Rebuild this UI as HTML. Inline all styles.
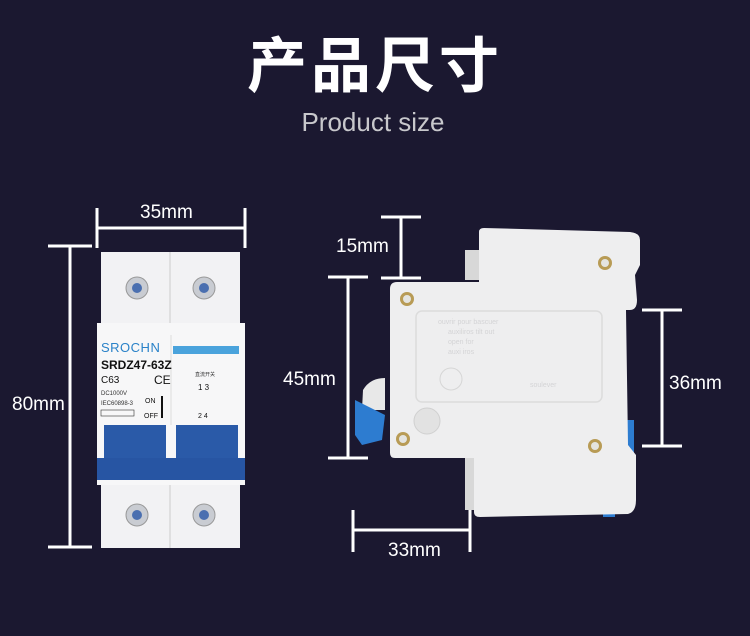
<!DOCTYPE html>
<html><head><meta charset="utf-8"><style>
html,body{margin:0;padding:0;background:#1b1830;}
body{width:750px;height:636px;overflow:hidden;position:relative;font-family:"Liberation Sans","Noto Sans CJK SC",sans-serif;}
</style></head><body>
<svg width="750" height="636" viewBox="0 0 750 636" xmlns="http://www.w3.org/2000/svg" style="position:absolute;left:0;top:0">
<rect width="750" height="636" fill="#1b1830"/>
<text x="375" y="87" text-anchor="middle" fill="#fff" font-size="60" font-weight="bold" font-family="Noto Sans CJK SC, sans-serif" letter-spacing="4">产品尺寸</text>
<text x="373" y="131" text-anchor="middle" fill="#c8c8cc" font-size="26" font-family="Liberation Sans, sans-serif">Product size</text>

<g stroke="#fff" stroke-width="3" fill="none">
<!-- 35mm -->
<line x1="97" y1="208" x2="97" y2="248"/><line x1="245" y1="208" x2="245" y2="248"/><line x1="97" y1="228" x2="245" y2="228"/>
<!-- 80mm -->
<line x1="48" y1="246" x2="92" y2="246"/><line x1="48" y1="547" x2="92" y2="547"/><line x1="70" y1="246" x2="70" y2="547"/>
<!-- 15mm -->
<line x1="381" y1="217" x2="421" y2="217"/><line x1="381" y1="278" x2="421" y2="278"/><line x1="401" y1="217" x2="401" y2="278"/>
<!-- 45mm -->
<line x1="328" y1="277" x2="368" y2="277"/><line x1="328" y1="458" x2="368" y2="458"/><line x1="348" y1="277" x2="348" y2="458"/>
<!-- 36mm -->
<line x1="642" y1="310" x2="682" y2="310"/><line x1="642" y1="446" x2="682" y2="446"/><line x1="662" y1="310" x2="662" y2="446"/>
<!-- 33mm -->
<line x1="353" y1="510" x2="353" y2="552"/><line x1="470" y1="510" x2="470" y2="552"/><line x1="353" y1="530" x2="470" y2="530"/>
</g>
<g fill="#fff" font-size="19" font-family="Liberation Sans, sans-serif">
<text x="140" y="218">35mm</text>
<text x="12" y="410">80mm</text>
<text x="336" y="252">15mm</text>
<text x="283" y="385">45mm</text>
<text x="669" y="389">36mm</text>
<text x="388" y="556">33mm</text>
</g>

<!-- Left breaker -->
<rect x="101" y="252" width="139" height="74" fill="#f2f2f4"/>
<line x1="170" y1="252" x2="170" y2="326" stroke="#ccc"/>
<rect x="97" y="323" width="148" height="162" fill="#f7f7f8"/>
<line x1="171" y1="335" x2="171" y2="425" stroke="#ddd"/>
<rect x="101" y="485" width="139" height="63" fill="#f2f2f4"/>
<line x1="170" y1="485" x2="170" y2="548" stroke="#ccc"/>
<g fill="#c9ccd2" stroke="#999">
<circle cx="137" cy="288" r="11"/><circle cx="204" cy="288" r="11"/>
<circle cx="137" cy="515" r="11"/><circle cx="204" cy="515" r="11"/>
</g>
<g fill="#4a6fb0"><circle cx="137" cy="288" r="5"/><circle cx="204" cy="288" r="5"/><circle cx="137" cy="515" r="5"/><circle cx="204" cy="515" r="5"/></g>
<text x="101" y="352" fill="#2a82c8" font-size="13" font-family="Liberation Sans, sans-serif" letter-spacing="0.5">SROCHN</text>
<rect x="173" y="346" width="66" height="8" fill="#4aa3dc"/>
<text x="101" y="369" fill="#111" font-size="12" font-weight="bold" font-family="Liberation Sans, sans-serif">SRDZ47-63Z</text>
<text x="101" y="383" fill="#111" font-size="10" font-family="Liberation Sans, sans-serif">C63</text>
<text x="154" y="384" fill="#111" font-size="12" font-family="Liberation Sans, sans-serif">CE</text>
<text x="101" y="395" fill="#333" font-size="6" font-family="Liberation Sans, sans-serif">DC1000V</text>
<text x="101" y="405" fill="#333" font-size="6" font-family="Liberation Sans, sans-serif">IEC60898-3</text>
<rect x="101" y="410" width="33" height="6" fill="none" stroke="#333" stroke-width="0.6"/>
<text x="145" y="403" fill="#111" font-size="7" font-family="Liberation Sans, sans-serif">ON</text>
<text x="144" y="418" fill="#111" font-size="7" font-family="Liberation Sans, sans-serif">OFF</text>
<line x1="162" y1="396" x2="162" y2="418" stroke="#111" stroke-width="2"/>
<text x="195" y="376" fill="#333" font-size="5" font-family="Noto Sans CJK SC, sans-serif">直流开关</text>
<text x="198" y="390" fill="#111" font-size="8" font-family="Liberation Sans, sans-serif">1  3</text>
<text x="198" y="418" fill="#111" font-size="7" font-family="Liberation Sans, sans-serif">2  4</text>
<rect x="104" y="425" width="62" height="35" fill="#2a5aa8"/>
<rect x="176" y="425" width="62" height="35" fill="#2a5aa8"/>
<rect x="97" y="458" width="148" height="22" fill="#2755a3"/>

<!-- Right breaker -->
<rect x="465" y="250" width="20" height="30" fill="#d8d8d8"/>
<rect x="465" y="455" width="15" height="55" fill="#d8d8d8"/>
<path d="M363 390 Q370 378 385 378 L385 410 L362 410 Z" fill="#e8e8e8"/>
<path d="M355 400 L375 410 L385 415 L382 440 L362 445 L355 435 Z" fill="#2d7cd0"/>
<rect x="612" y="420" width="22" height="34" fill="#2d7cd0"/>
<rect x="603" y="505" width="12" height="12" fill="#2d7cd0"/>
<path d="M479 232 Q479 228 484 228 L630 232 Q640 233 640 240 L640 265 L635 275 L637 300 Q637 310 630 310 L626 310 L628 445 L636 455 L636 500 Q636 512 628 514 L480 517 Q474 517 474 512 L474 458 L395 458 Q390 458 390 453 L390 289 Q390 282 397 282 L479 282 Z" fill="#eeeeef"/>
<rect x="416" y="311" width="186" height="91" rx="6" fill="none" stroke="#dcdcdc" stroke-width="1.5"/>
<g fill="#d4d4d6" font-size="7" font-family="Liberation Sans, sans-serif">
<text x="438" y="324">ouvrir  pour  bascuer</text>
<text x="448" y="334">auxiliros  tilt out</text>
<text x="448" y="344">open for</text>
<text x="448" y="354">auxi iros</text>
<text x="530" y="387">soulever</text>
</g>
<circle cx="451" cy="379" r="11" fill="none" stroke="#d6d6d6"/>
<circle cx="427" cy="421" r="13" fill="#e2e2e2" stroke="#d0d0d0"/>
<g fill="#b89b55"><circle cx="407" cy="299" r="7"/><circle cx="605" cy="263" r="7"/><circle cx="403" cy="439" r="7"/><circle cx="595" cy="446" r="7"/></g>
<g fill="#e4e4e0"><circle cx="407" cy="299" r="4"/><circle cx="605" cy="263" r="4"/><circle cx="403" cy="439" r="4"/><circle cx="595" cy="446" r="4"/></g>
</svg>
</body></html>
